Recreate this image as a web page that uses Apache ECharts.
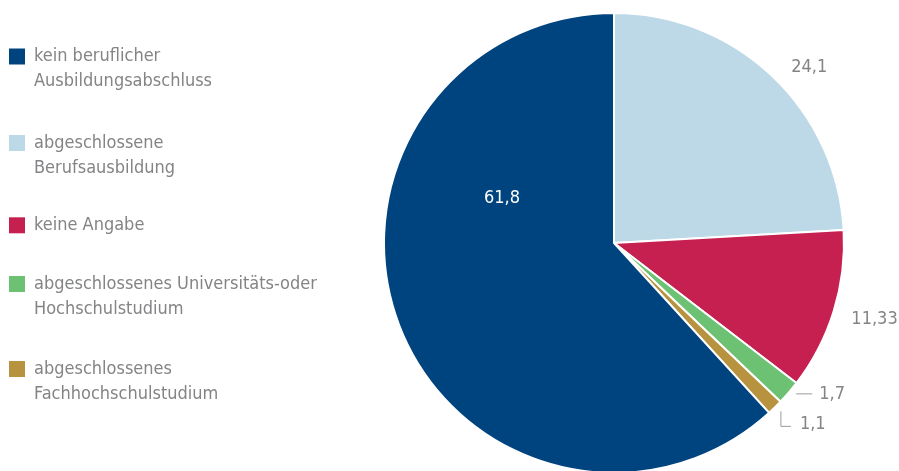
<!DOCTYPE html>
<html>
<head>
<meta charset="utf-8">
<script src="https://cdn.jsdelivr.net/npm/echarts@6/dist/echarts.min.js"></script>
<style>
  html, body { margin: 0; padding: 0; background: #fff; }
  #chart { width: 899px; height: 471px; }
</style>
</head>
<body>
<div id="chart"></div>
<script>
// Slices in clockwise order, starting at 12 o'clock
const categories = [
  'abgeschlossene\nBerufsausbildung',
  'keine Angabe',
  'abgeschlossenes Universitäts-oder\nHochschulstudium',
  'abgeschlossenes\nFachhochschulstudium',
  'kein beruflicher\nAusbildungsabschluss'
];
const shares = [24.1, 11.33, 1.7, 1.1, 61.8];
// Order of the entries in the legend column (indices into categories)
const legendOrder = [4, 0, 1, 2, 3];

const palette = ['#bdd8e6', '#c62051', '#6cc173', '#b8933f', '#00447f'];
const FONT = "'DejaVu Sans Condensed', 'Liberation Sans Narrow', 'Liberation Sans', sans-serif";
const GREY = '#838486';

// Vertical centre of each legend swatch
const legendCentres = [56.5, 143, 225.3, 284, 369];
const LINE_H = 25;

// One legend block per entry; the swatch lines up with the first text line,
// so multi-line entries get blank lines above to keep the block centred on it.
const legends = legendOrder.map((idx, i) => {
  const lines = categories[idx].split('\n').length;
  const pad = lines - 1;
  const boxHalf = ((lines + pad) * LINE_H) / 2;
  return {
    left: 9,
    top: legendCentres[i] - boxHalf,
    orient: 'vertical',
    padding: 0,
    icon: 'rect',
    itemWidth: 16,
    itemHeight: 16,
    itemStyle: { borderWidth: 0 },
    selectedMode: false,
    data: [categories[idx]],
    formatter: name => '\n'.repeat(pad) + name,
    textStyle: {
      color: GREY,
      fontFamily: FONT,
      fontSize: 18,
      lineHeight: LINE_H,
      padding: [0, 0, 0, 4]
    }
  };
});

function fmt(v) { return String(v).replace('.', ','); }

// Per-slice label placement
const labelSetup = [
  { position: 'outside', line: false, length: 12, length2: 6 },
  { position: 'outside', line: false, length: 10, length2: 3 },
  { position: 'outside', line: true, length: 2, length2: 22 },
  { position: 'outside', line: true, length: 2, length2: 10 },
  { position: 'inside', line: false, length: 0, length2: 0 }
];

const seriesData = categories.map((name, i) => ({
  name: name,
  value: shares[i],
  itemStyle: { color: palette[i] },
  label: {
    position: labelSetup[i].position,
    color: labelSetup[i].position === 'inside' ? '#ffffff' : GREY
  },
  labelLine: {
    show: labelSetup[i].line,
    length: labelSetup[i].length,
    length2: labelSetup[i].length2
  }
}));

const chart = echarts.init(document.getElementById('chart'), null, { renderer: 'canvas' });
chart.setOption({
  animation: false,
  backgroundColor: '#ffffff',
  legend: legends,
  series: [{
    type: 'pie',
    center: [614, 243],
    radius: 230,
    startAngle: 90,
    clockwise: true,
    avoidLabelOverlap: false,
    silent: true,
    itemStyle: { borderColor: '#ffffff', borderWidth: 2 },
    label: {
      show: true,
      formatter: p => fmt(p.value),
      fontFamily: FONT,
      fontSize: 18,
      distanceToLabelLine: 5
    },
    labelLine: {
      lineStyle: { color: '#9a9b9d', width: 1 }
    },
    labelLayout: function (p) {
      const pts = p.labelLinePoints;
      if (p.dataIndex === 1) {
        return { dy: 6 };
      }
      if (p.dataIndex === 2 && pts) {
        const a = [pts[1][0] + 6, pts[1][1]];
        return { labelLinePoints: [a, a, pts[2]], dx: 2 };
      }
      if (p.dataIndex === 3 && pts) {
        const a = [pts[0][0] + 6, pts[0][1] + 4];
        const b = [a[0], a[1] + 15];
        const c = [b[0] + 10, b[1]];
        return {
          x: c[0] + 9, y: c[1] - 2,
          align: 'left', verticalAlign: 'middle',
          labelLinePoints: [a, b, c]
        };
      }
      if (p.dataIndex === 4) {
        return { dx: -2, dy: -87 };
      }
      return {};
    },
    data: seriesData
  }]
});
</script>
</body>
</html>
